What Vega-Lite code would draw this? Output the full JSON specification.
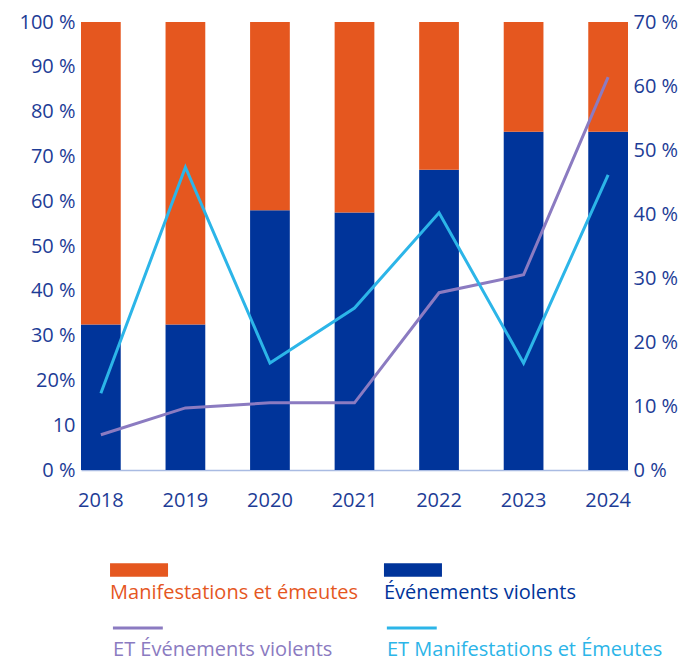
{
  "$schema": "https://vega.github.io/schema/vega-lite/v6.json",
  "background": "white",
  "padding": {"left": 18, "top": 12, "right": 5, "bottom": 5},
  "config": {
    "font": "Open Sans",
    "view": {"stroke": null},
    "axis": {"labelFont": "Open Sans", "labelFontSize": 20, "labelColor": "#1d3c96", "grid": false, "ticks": false}
  },
  "datasets": {
    "bars": [
      {"year": "2018", "type": "Événements violents", "value": 32.5, "ord": 1},
      {"year": "2018", "type": "Manifestations et émeutes", "value": 67.5, "ord": 2},
      {"year": "2019", "type": "Événements violents", "value": 32.5, "ord": 1},
      {"year": "2019", "type": "Manifestations et émeutes", "value": 67.5, "ord": 2},
      {"year": "2020", "type": "Événements violents", "value": 58, "ord": 1},
      {"year": "2020", "type": "Manifestations et émeutes", "value": 42, "ord": 2},
      {"year": "2021", "type": "Événements violents", "value": 57.5, "ord": 1},
      {"year": "2021", "type": "Manifestations et émeutes", "value": 42.5, "ord": 2},
      {"year": "2022", "type": "Événements violents", "value": 67, "ord": 1},
      {"year": "2022", "type": "Manifestations et émeutes", "value": 33, "ord": 2},
      {"year": "2023", "type": "Événements violents", "value": 75.5, "ord": 1},
      {"year": "2023", "type": "Manifestations et émeutes", "value": 24.5, "ord": 2},
      {"year": "2024", "type": "Événements violents", "value": 75.5, "ord": 1},
      {"year": "2024", "type": "Manifestations et émeutes", "value": 24.5, "ord": 2}
    ],
    "lines": [
      {"year": "2018", "type": "ET Événements violents", "et": 5.5},
      {"year": "2019", "type": "ET Événements violents", "et": 9.7},
      {"year": "2020", "type": "ET Événements violents", "et": 10.5},
      {"year": "2021", "type": "ET Événements violents", "et": 10.5},
      {"year": "2022", "type": "ET Événements violents", "et": 27.7},
      {"year": "2023", "type": "ET Événements violents", "et": 30.5},
      {"year": "2024", "type": "ET Événements violents", "et": 61.4},
      {"year": "2018", "type": "ET Manifestations et Émeutes", "et": 12},
      {"year": "2019", "type": "ET Manifestations et Émeutes", "et": 47.3},
      {"year": "2020", "type": "ET Manifestations et Émeutes", "et": 16.7},
      {"year": "2021", "type": "ET Manifestations et Émeutes", "et": 25.3},
      {"year": "2022", "type": "ET Manifestations et Émeutes", "et": 40.2},
      {"year": "2023", "type": "ET Manifestations et Émeutes", "et": 16.7},
      {"year": "2024", "type": "ET Manifestations et Émeutes", "et": 46.1}
    ],
    "legend": [
      {"type": "Manifestations et émeutes", "col": 0, "row": 0, "kind": "box"},
      {"type": "Événements violents", "col": 1, "row": 0, "kind": "box"},
      {"type": "ET Événements violents", "col": 0, "row": 1, "kind": "line"},
      {"type": "ET Manifestations et Émeutes", "col": 1, "row": 1, "kind": "line"}
    ]
  },
  "resolve": {"scale": {"color": "shared"}},
  "spacing": 53,
  "vconcat": [
    {
      "width": 547,
      "height": 448,
      "layer": [
        {
          "data": {"name": "bars"},
          "mark": {"type": "bar"},
          "encoding": {
            "x": {"field": "year", "type": "ordinal", "title": null,
              "scale": {"paddingInner": 0.53, "paddingOuter": 0},
              "axis": {"labelAngle": 0, "labelPadding": 20, "domainColor": "#a9bbe2", "domainWidth": 1.5}},
            "y": {"field": "value", "type": "quantitative", "stack": "zero", "title": null,
              "scale": {"domain": [0, 100], "nice": false},
              "axis": {"orient": "left", "values": [0,10,20,30,40,50,60,70,80,90,100], "domain": false, "labelPadding": 6,
                "labelExpr": "datum.value == 20 ? '20%' : datum.value == 10 ? '10' : datum.value + ' %'"}},
            "color": {"field": "type", "type": "nominal", "legend": null,
              "scale": {"domain": ["Manifestations et émeutes", "Événements violents", "ET Événements violents", "ET Manifestations et Émeutes"],
                "range": ["#e5571f", "#00349a", "#8b7bc1", "#2cb5e8"]}},
            "order": {"field": "ord", "type": "quantitative"}
          }
        },
        {
          "data": {"name": "lines"},
          "mark": {"type": "line", "strokeWidth": 3},
          "encoding": {
            "x": {"field": "year", "type": "ordinal"},
            "y": {"field": "et", "type": "quantitative", "title": null,
              "scale": {"domain": [0, 70], "nice": false},
              "axis": {"orient": "right", "values": [0,10,20,30,40,50,60,70], "domain": false, "labelPadding": 5,
                "labelExpr": "datum.value + ' %'"}},
            "color": {"field": "type", "type": "nominal", "legend": null}
          }
        }
      ],
      "resolve": {"scale": {"y": "independent"}}
    },
    {
      "width": 332,
      "height": 58,
      "data": {"name": "legend"},
      "encoding": {
        "x": {"field": "col", "type": "ordinal", "scale": {"type": "point", "padding": 0.106}, "axis": null},
        "y": {"field": "row", "type": "ordinal", "scale": {"type": "point", "padding": 0}, "axis": null},
        "color": {"field": "type", "type": "nominal", "legend": null}
      },
      "layer": [
        {
          "transform": [{"filter": "datum.kind == 'box'"}],
          "mark": {"type": "point", "filled": true, "opacity": 1, "size": 3364, "shape": "M0,-0.235H2V0.235H0Z"}
        },
        {
          "transform": [{"filter": "datum.kind == 'line'"}],
          "mark": {"type": "point", "filled": true, "opacity": 1, "size": 3364, "shape": "M0.1,-0.05H1.82V0.05H0.1Z"}
        },
        {
          "transform": [{"filter": "datum.kind == 'box'"}],
          "mark": {"type": "text", "align": "left", "baseline": "middle", "dy": 23, "fontSize": 20},
          "encoding": {"text": {"field": "type"}}
        },
        {
          "transform": [{"filter": "datum.kind == 'line'"}],
          "mark": {"type": "text", "align": "left", "baseline": "middle", "dy": 22, "dx": 3, "fontSize": 20},
          "encoding": {"text": {"field": "type"}}
        }
      ]
    }
  ]
}
